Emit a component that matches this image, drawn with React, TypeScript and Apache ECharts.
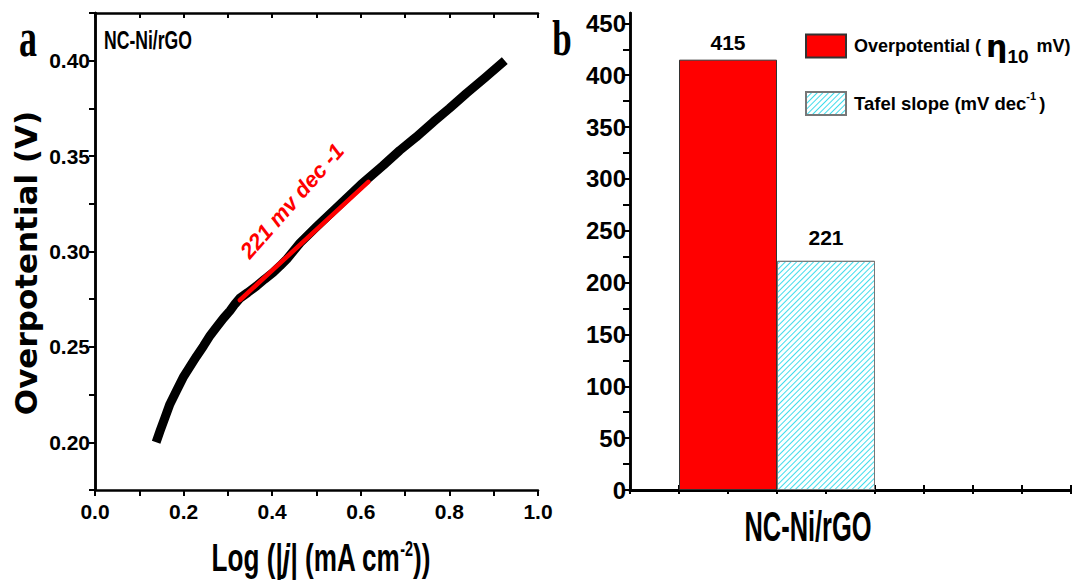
import React, { useEffect, useRef } from 'react';
import * as echarts from 'echarts';

// ---------- data ----------
const curveX = [0.138, 0.147, 0.158, 0.169, 0.184, 0.199, 0.214, 0.229, 0.245, 0.26, 0.275, 0.29, 0.305, 0.316, 0.327, 0.345, 0.365, 0.383, 0.402, 0.418, 0.433, 0.463, 0.5, 0.55, 0.6, 0.65, 0.688, 0.725, 0.764, 0.8, 0.839, 0.88, 0.925];
const curveY = [0.2, 0.206, 0.213, 0.22, 0.227, 0.234, 0.2395, 0.245, 0.2505, 0.256, 0.2605, 0.265, 0.269, 0.2725, 0.2755, 0.2785, 0.282, 0.2855, 0.289, 0.2925, 0.296, 0.3045, 0.313, 0.324, 0.335, 0.345, 0.353, 0.36, 0.368, 0.375, 0.383, 0.391, 0.4];
const fitX = [0.327, 0.617];
const fitY = [0.2745, 0.3365];
const fitLabel = '221 mv dec -1';
const sampleName = 'NC-Ni/rGO';

const barNames = ['Overpotential', 'Tafel slope'];
const barPositions = [2, 4];
const barValues = [415, 221];
const yTicksB = [0, 25, 50, 75, 100, 125, 150, 175, 200, 225, 250, 275, 300, 325, 350, 375, 400, 425, 450];
const yLabelsB = [0, 50, 100, 150, 200, 250, 300, 350, 400, 450];

const SANS = '"Liberation Sans", Arial, sans-serif';
const SERIF = '"Liberation Serif", "Times New Roman", serif';

export default function App() {
  const ref = useRef<HTMLDivElement>(null);
  useEffect(() => {
    if (!ref.current) return;
    const chart = echarts.init(ref.current, null, { renderer: 'svg' });
    const axisLine = { show: true, lineStyle: { color: '#000', width: 2.5 } };
    const tickStyle = { color: '#000', width: 2 };
    const labelA = { color: '#000', fontFamily: SANS, fontWeight: 'bold' as const, fontSize: 21 };

    const option: any = {
      animation: false,
      backgroundColor: '#fff',
      grid: [
        { left: 95, top: 13, width: 443, height: 477, containLabel: false },
        { left: 630, top: 13, width: 441, height: 477, containLabel: false },
      ],
      xAxis: [
        {
          type: 'value', gridIndex: 0, position: 'bottom', min: 0, max: 1, interval: 0.1,
          axisLine, splitLine: { show: false },
          axisTick: { show: true, inside: false, length: 6, lineStyle: tickStyle },
          axisLabel: {
            ...labelA, margin: 11,
            formatter: (v: number) => (Math.round(v * 10) % 2 === 0 ? v.toFixed(1) : ''),
          },
        },
        {
          type: 'value', gridIndex: 0, position: 'top', min: 0, max: 1, interval: 0.1,
          axisLine, splitLine: { show: false },
          axisTick: { show: true, inside: true, length: 5, lineStyle: tickStyle },
          axisLabel: { show: false },
        },
        {
          type: 'value', gridIndex: 1, position: 'bottom', min: 0, max: 9, interval: 1,
          axisLine: { show: true, lineStyle: { color: '#000', width: 3 } }, splitLine: { show: false },
          axisTick: { show: true, inside: true, length: 5, lineStyle: tickStyle },
          axisLabel: { show: false },
        },
        {
          type: 'value', gridIndex: 1, position: 'top', min: 0, max: 9, interval: 1,
          axisLine, splitLine: { show: false },
          axisTick: { show: true, inside: true, length: 4, lineStyle: tickStyle },
          axisLabel: { show: false },
        },
      ],
      yAxis: [
        {
          type: 'value', gridIndex: 0, position: 'left', min: 0.175, max: 0.425, interval: 0.025,
          axisLine, splitLine: { show: false },
          axisTick: { show: true, inside: false, length: 6, lineStyle: tickStyle },
          axisLabel: {
            ...labelA, margin: 5,
            formatter: (v: number) => {
              const k = v / 0.05;
              return Math.abs(k - Math.round(k)) < 1e-6 ? v.toFixed(2) : '';
            },
          },
        },
        {
          type: 'value', gridIndex: 0, position: 'right', min: 0.175, max: 0.425, interval: 0.025,
          axisLine, splitLine: { show: false },
          axisTick: { show: true, inside: true, length: 4, lineStyle: tickStyle },
          axisLabel: { show: false },
        },
        {
          type: 'value', gridIndex: 1, position: 'left', min: 0, max: 460, interval: 25,
          axisLine, splitLine: { show: false },
          axisTick: { show: true, inside: false, length: 7, lineStyle: tickStyle, customValues: yTicksB },
          axisLabel: {
            color: '#000', fontFamily: SANS, fontWeight: 'bold', fontSize: 24, margin: 4,
            customValues: yLabelsB,
            formatter: (v: number) => (v % 50 === 0 ? String(v) : ''),
          },
        },
        {
          type: 'value', gridIndex: 1, position: 'right', min: 0, max: 460, interval: 25,
          axisLine, splitLine: { show: false },
          axisTick: { show: false },
          axisLabel: { show: false },
        },
      ],
      legend: [
        {
          data: [barNames[0]], left: 805, top: 31, orient: 'vertical', icon: 'rect', padding: 0,
          itemWidth: 40, itemHeight: 23, selectedMode: false,
          formatter: () => '{t|Overpotential ( }{eta|η}{sub|10}{t| mV)}',
          textStyle: {
            color: '#000', fontFamily: SANS, fontWeight: 'bold', fontSize: 18,
            rich: {
              t: { color: '#000', fontFamily: SANS, fontWeight: 'bold', fontSize: 18, padding: [0, 0, 0, 3] },
              eta: { color: '#000', fontFamily: '"DejaVu Sans", sans-serif', fontSize: 30, lineHeight: 40 },
              sub: { color: '#000', fontFamily: SANS, fontWeight: 'bold', fontSize: 19, verticalAlign: 'bottom' },
            },
          },
        },
        {
          data: [barNames[1]], left: 805, top: 90, orient: 'vertical', icon: 'rect', padding: 0,
          itemWidth: 40, itemHeight: 23, selectedMode: false,
          formatter: () => '{t|Tafel slope (mV dec}{sup|-1}{t|)}',
          textStyle: {
            color: '#000', fontFamily: SANS, fontWeight: 'bold', fontSize: 18.5,
            rich: {
              t: { color: '#000', fontFamily: SANS, fontWeight: 'bold', fontSize: 18.5, lineHeight: 27, padding: [0, 0, 0, 3] },
              sup: { color: '#000', fontFamily: SANS, fontWeight: 'bold', fontSize: 11, verticalAlign: 'top' },
            },
          },
        },
      ],
      series: [
        {
          type: 'line', xAxisIndex: 0, yAxisIndex: 0, showSymbol: false, symbol: 'none',
          data: curveX.map((x, i) => [x, curveY[i]]),
          lineStyle: { color: '#000', width: 9, cap: 'butt', join: 'round' },
          z: 3,
        },
        {
          type: 'line', xAxisIndex: 0, yAxisIndex: 0, showSymbol: false, symbol: 'none',
          data: fitX.map((x, i) => [x, fitY[i]]),
          lineStyle: { color: '#ff0000', width: 4.5, cap: 'round' },
          z: 4,
        },
        {
          name: barNames[0], type: 'bar', xAxisIndex: 2, yAxisIndex: 2, barWidth: 98, barGap: '-100%',
          data: [{ value: [barPositions[0], barValues[0]], label: { distance: 7 } }],
          itemStyle: { color: '#ff0000', borderColor: '#333', borderWidth: 1 },
          label: {
            show: true, position: 'top', color: '#000', fontFamily: SANS, fontWeight: 'bold', fontSize: 21,
            formatter: (p: any) => String(p.value[1]),
          },
        },
        {
          name: barNames[1], type: 'bar', xAxisIndex: 2, yAxisIndex: 2, barWidth: 98, barGap: '-100%',
          data: [{ value: [barPositions[1], barValues[1]], label: { distance: 13 } }],
          itemStyle: {
            color: '#ffffff', borderColor: '#777', borderWidth: 1,
            decal: {
              symbol: 'rect', symbolSize: 1, color: '#3fdcec', backgroundColor: '#ffffff',
              dashArrayX: [1, 0], dashArrayY: [1, 2.2], rotation: -Math.PI / 4,
            },
          },
          label: {
            show: true, position: 'top', color: '#000', fontFamily: SANS, fontWeight: 'bold', fontSize: 21,
            formatter: (p: any) => String(p.value[1]),
          },
        },
      ],
      graphic: [
        {
          type: 'text', x: 28, y: 37, scaleY: 1.55,
          style: { text: 'a', fill: '#000', font: `bold 36px ${SERIF}`, align: 'center', verticalAlign: 'middle' },
        },
        {
          type: 'text', x: 562, y: 38, scaleY: 1.45,
          style: { text: 'b', fill: '#000', font: `bold 35px ${SERIF}`, align: 'center', verticalAlign: 'middle' },
        },
        {
          type: 'text', x: 104, y: 40, scaleX: 0.8, scaleY: 1.15,
          style: { text: sampleName, fill: '#000', font: `bold 22px ${SANS}`, align: 'left', verticalAlign: 'middle' },
        },
        {
          type: 'text', x: 292, y: 201, rotation: 0.85,
          style: { text: fitLabel, fill: '#ff0000', font: `italic bold 22px ${SANS}`, align: 'center', verticalAlign: 'middle' },
        },
        {
          type: 'text', x: 26, y: 263, rotation: Math.PI / 2,
          style: { text: 'Overpotential (V)', fill: '#000', font: `bold 31px "DejaVu Sans", sans-serif`, align: 'center', verticalAlign: 'middle' },
        },
        {
          type: 'text', x: 321, y: 557, scaleX: 0.9, scaleY: 1.35,
          style: {
            text: '{t|Log (|}{j|j}{t|| (mA cm}{s|-2}{t|))}',
            fill: '#000', align: 'center', verticalAlign: 'middle',
            rich: {
              t: { fill: '#000', font: `bold 29px ${SANS}` },
              j: { fill: '#000', font: `italic bold 29px ${SANS}` },
              s: { fill: '#000', font: `bold 16px ${SANS}`, verticalAlign: 'top' },
            },
          },
        },
        {
          type: 'text', x: 808, y: 526, scaleX: 0.82, scaleY: 1.35,
          style: { text: sampleName, fill: '#000', font: `bold 31px ${SANS}`, align: 'center', verticalAlign: 'middle' },
        },
      ],
    };
    chart.setOption(option);
    return () => chart.dispose();
  }, []);
  return <div ref={ref} style={{ position: 'fixed', left: 0, top: 0, width: 1072, height: 583, background: '#fff' }} />;
}
